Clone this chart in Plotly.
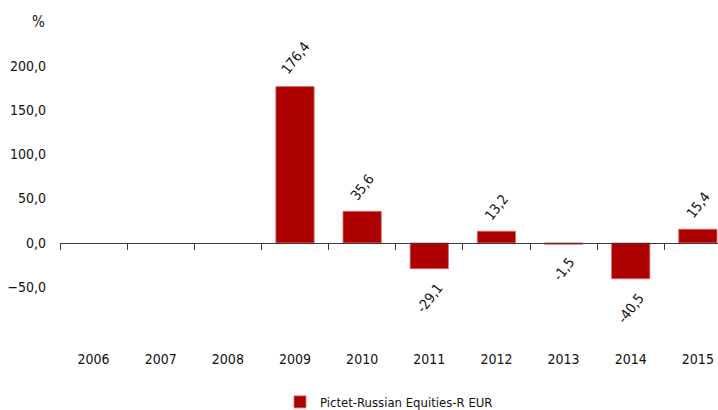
import plotly.graph_objects as go

years = ["2006", "2007", "2008", "2009", "2010", "2011", "2012", "2013", "2014", "2015"]
returns = [None, None, None, 176.4, 35.6, -29.1, 13.2, -1.5, -40.5, 15.4]
series_name = "Pictet-Russian Equities-R EUR"
y_ticks = [-50, 0, 50, 100, 150, 200]

FONT = "DejaVu Sans Condensed, Roboto"
BAR = "#AD0000"

ymin, ymax = -113, 229
xpos = list(range(len(years)))
xrange_ = [-0.5, len(years) - 0.7]

fig = go.Figure()
fig.add_trace(go.Bar(
    x=xpos, y=returns, name=series_name,
    width=0.57,
    marker=dict(color=BAR, line=dict(color="#E06A6A", width=0.8)),
    showlegend=True,
))

# value labels, rotated, placed above positive / below negative bars
annotations = []
for xi, v in zip(xpos, returns):
    if v is None:
        continue
    label = f"{v:.1f}".replace(".", ",")
    shift = 6 + 4.6 * len(label)
    annotations.append(dict(
        x=xi, y=v, xref="x", yref="y", text=label, showarrow=False,
        textangle=-52, xanchor="center", yanchor="middle",
        yshift=shift if v >= 0 else -shift,
        font=dict(family=FONT, size=14, color="#111111"),
    ))
annotations.append(dict(text="%", xref="paper", yref="paper", x=-0.02, y=1.06,
                        xanchor="right", yanchor="middle", showarrow=False,
                        font=dict(family=FONT, size=15, color="#111111")))

fig.update_layout(
    width=718, height=410,
    margin=dict(l=60, r=0, t=40, b=67, autoexpand=False),
    paper_bgcolor="white", plot_bgcolor="white",
    separators=",.",
    font=dict(family=FONT, size=14, color="#111111"),
    xaxis=dict(range=xrange_, tickvals=xpos, ticktext=years, showgrid=False, showline=False,
               zeroline=False, ticks="", tickfont=dict(size=14), ticklabelstandoff=6,
               automargin=False),
    xaxis2=dict(overlaying="x", anchor="free", position=(0 - ymin) / (ymax - ymin),
                range=xrange_, tickvals=[x - 0.5 for x in xpos],
                showticklabels=False, ticks="outside", ticklen=6, tickcolor="#3a3a3a",
                showline=True, linecolor="#3a3a3a", linewidth=1.2, showgrid=False,
                zeroline=False, automargin=False),
    yaxis=dict(range=[ymin, ymax], tickvals=y_ticks, tickformat=".1f", showgrid=False,
               zeroline=False, showline=False, ticks="", ticklabelstandoff=13,
               tickfont=dict(size=14), automargin=False),
    legend=dict(orientation="h", x=0.5, xanchor="center", y=-0.145, yanchor="top",
                font=dict(size=13), itemwidth=30),
    annotations=annotations,
)
fig.add_trace(go.Scatter(x=[None], y=[None], xaxis="x2", showlegend=False, hoverinfo="skip"))

fig.write_html("out.html", config={"displayModeBar": False},
               post_script="document.body.style.margin='0';")
